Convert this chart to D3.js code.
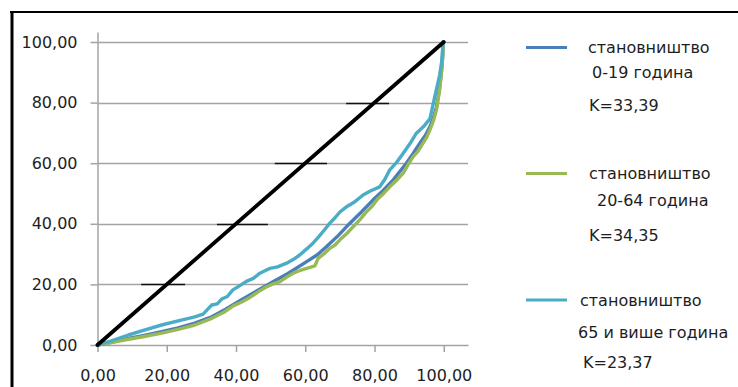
<!DOCTYPE html>
<html>
<head>
<meta charset="utf-8">
<script src="https://cdn.jsdelivr.net/npm/d3@7/dist/d3.min.js"></script>
<style>
  html, body { margin: 0; padding: 0; background: #fff; }
  svg { display: block; }
  text { font-family: "DejaVu Sans", sans-serif; fill: #1e1e1e; }
</style>
</head>
<body>
<svg id="chart" width="738" height="387"></svg>
<script>
// Cumulative share of population (x, %) vs cumulative share of income (y, %)
const xTicks = [0, 20, 40, 60, 80, 100];
const yTicks = [0, 20, 40, 60, 80, 100];

const equalityLine = [[0, 0], [100, 100]];
// horizontal bars on the equality line: [y, xFrom, xTo]
const equalityBars = [[20, 12.6, 25.3], [40, 34.5, 49.2], [60, 51.2, 66.3], [80, 71.8, 84.2]];

const group0to19 = [[0,0],[4,0.9],[8.9,2.2],[13.5,3.2],[18.5,4.4],[23,5.6],[28.1,7.2],[33,9.3],[37,11.8],[41.1,14.6],[45,17.2],[50.7,20.9],[55,23.6],[60.4,27.5],[63.5,29.8],[66.1,32.4],[69.5,36.1],[72.9,40.2],[76.3,44.0],[79.6,47.9],[82.5,51.0],[85.4,54.5],[89.2,60.0],[91.2,63.3],[93.1,66.6],[94.7,69.2],[96.0,72.0],[97.1,75.3],[97.9,78.6],[98.8,84.8],[99.4,90.8],[99.7,95.5],[99.8,100]];

const group20to64 = [[0,0],[4,0.8],[8.9,1.9],[13.5,2.8],[18.5,3.9],[23,5.1],[28.1,6.6],[33,8.8],[36.5,10.8],[39.2,12.9],[41.5,14.1],[44.0,15.7],[46.5,17.6],[48.8,19.2],[50.8,20.2],[52.7,20.9],[54.6,22.4],[56.5,23.7],[58.5,24.6],[60.4,25.3],[62.8,26.1],[63.7,28.6],[65.2,29.9],[67.1,31.9],[68.6,33.0],[70.0,34.7],[72,36.8],[73.8,39.0],[75.8,41.4],[77.7,44.0],[79.3,45.8],[80.9,48.2],[82.7,50.1],[84.4,52.2],[86.3,54.3],[88.3,56.7],[89.7,59.5],[91.1,62.1],[92.6,64.0],[94.0,66.6],[95.1,68.6],[96.0,71.0],[97.1,74.3],[97.9,77.6],[98.8,84.2],[99.4,90.8],[99.7,95.5],[99.8,100]];

const group65plus = [[0,0],[4,1.4],[8.9,3.3],[13.5,4.9],[18.5,6.6],[23,7.9],[28.1,9.3],[30.5,10.2],[32,12.0],[33,13.2],[34.6,13.6],[35.9,15.2],[37.5,16.0],[39.1,18.2],[41.1,19.6],[43,21.0],[45,22.0],[46.9,23.7],[48.5,24.6],[49.8,25.3],[52,25.8],[54.6,27.0],[56.5,28.2],[58.4,29.7],[60.5,31.8],[62.3,33.7],[63.8,35.6],[65.4,37.8],[67.1,40.2],[68.6,42.0],[70.0,43.9],[71.9,45.6],[74,47.0],[76.7,49.5],[78.8,50.8],[81.5,52.2],[83,54.7],[84.4,57.8],[86.4,60.3],[88.3,63.3],[90.2,66.4],[92.1,69.9],[94.1,72.0],[96.0,74.6],[97.4,81.9],[98.8,89.0],[99.4,93.5],[99.8,100]];

const seriesNames = [["становништво", "0-19 година"], ["становништво", "20-64 година"], ["становништво", "65 и више година"]];
const giniLabels = ["K=33,39", "K=34,35", "K=23,37"];
const seriesColors = ["#4a7ebb", "#98b954", "#4bacc6"];

const svg = d3.select("#chart");

// frame
svg.append("line").attr("x1", 10).attr("x2", 738).attr("y1", 12).attr("y2", 12)
  .attr("stroke", "#000").attr("stroke-width", 2);
svg.append("line").attr("x1", 12).attr("x2", 12).attr("y1", 11).attr("y2", 387)
  .attr("stroke", "#000").attr("stroke-width", 3);

const x = d3.scaleLinear().domain([0, 107]).range([97.5, 468]);
const y = d3.scaleLinear().domain([0, 103.3]).range([345, 32]);

const loc = d3.formatLocale({ decimal: ",", thousands: ".", grouping: [3], currency: ["", ""] });
const fmt = loc.format(".2f");

// horizontal gridlines
svg.append("g").selectAll("line").data(yTicks.filter(d => d > 0)).join("line")
  .attr("x1", x(0)).attr("x2", x.range()[1])
  .attr("y1", d => Math.round(y(d)) + 0.5).attr("y2", d => Math.round(y(d)) + 0.5)
  .attr("stroke", "#a3a3a3").attr("stroke-width", 1.5);

// axes
const yAxis = svg.append("g").attr("transform", `translate(${x(0)},0)`)
  .call(d3.axisLeft(y).tickValues(yTicks).tickFormat(fmt).tickSizeInner(7).tickSizeOuter(0).tickPadding(13));
const xAxis = svg.append("g").attr("transform", `translate(0,${y(0)})`)
  .call(d3.axisBottom(x).tickValues(xTicks).tickFormat(fmt).tickSizeInner(7).tickSizeOuter(0).tickPadding(18));
[yAxis, xAxis].forEach(g => {
  g.selectAll("path, line").attr("stroke", "#a3a3a3").attr("stroke-width", 1.5);
  g.selectAll("text").style("font-size", "16px").style("font-family", "DejaVu Sans, sans-serif").attr("fill", "#1e1e1e");
});

// bars on the equality line
svg.append("g").selectAll("line").data(equalityBars).join("line")
  .attr("x1", d => x(d[1])).attr("x2", d => x(d[2]))
  .attr("y1", d => Math.round(y(d[0])) + 0.5).attr("y2", d => Math.round(y(d[0])) + 0.5)
  .attr("stroke", "#111").attr("stroke-width", 1.5);

const line = d3.line().x(d => x(d[0])).y(d => y(d[1]));

// Lorenz curves
[group0to19, group20to64, group65plus].forEach((data, i) => {
  svg.append("path").datum(data).attr("d", line)
    .attr("fill", "none").attr("stroke", seriesColors[i]).attr("stroke-width", 3.4)
    .attr("stroke-linejoin", "round").attr("stroke-linecap", "round");
});

// line of equality
svg.append("path").datum(equalityLine).attr("d", line)
  .attr("fill", "none").attr("stroke", "#000").attr("stroke-width", 3.8).attr("stroke-linecap", "round");

// legend
const legendLayout = [
  { lineY: 47.5, rows: [[588, 47.5], [592, 72], [589, 105]] },
  { lineY: 173.5, rows: [[589, 173.5], [597, 200], [589, 235]] },
  { lineY: 300, rows: [[580, 300], [578, 332], [583, 362]] }
];
const legend = svg.append("g");
legendLayout.forEach((lay, i) => {
  legend.append("line").attr("x1", 526).attr("x2", 567).attr("y1", lay.lineY).attr("y2", lay.lineY)
    .attr("stroke", seriesColors[i]).attr("stroke-width", 3.2);
  const texts = [seriesNames[i][0], seriesNames[i][1], giniLabels[i]];
  texts.forEach((t, j) => {
    legend.append("text").attr("x", lay.rows[j][0]).attr("y", lay.rows[j][1])
      .attr("dy", "0.36em").style("font-size", "16px").text(t);
  });
});
</script>
</body>
</html>
